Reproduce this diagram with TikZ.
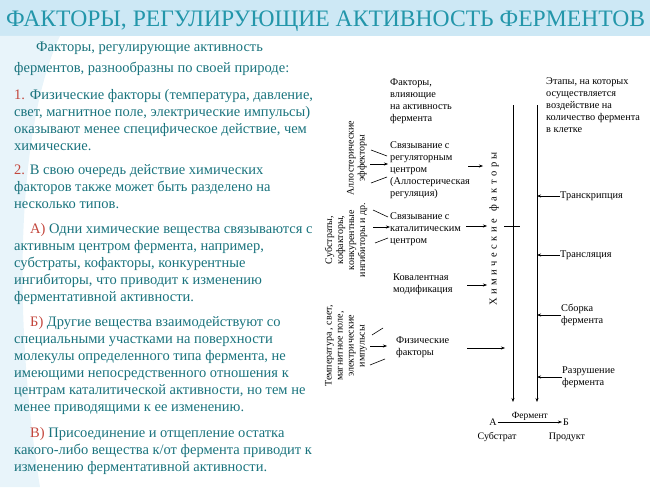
\documentclass[tikz,border=0pt]{standalone}
\usepackage{fontspec}
\setmainfont{Liberation Serif}
\usetikzlibrary{arrows.meta}
\definecolor{tealtxt}{RGB}{25,115,125}
\definecolor{titlec}{RGB}{35,150,170}
\definecolor{numred}{RGB}{195,70,60}
\definecolor{band}{RGB}{205,232,245}
\definecolor{swoosh}{RGB}{232,244,250}
\begin{document}
\begin{tikzpicture}[x=1pt,y=-1pt,
  body/.style={anchor=base west,inner sep=0,font=\fontsize{14.5}{15}\selectfont,text=tealtxt},
  lab/.style={anchor=north west,inner sep=0,align=left,font=\fontsize{10.3}{12}\selectfont},
  vlab/.style={rotate=90,inner sep=0,align=center,font=\fontsize{10}{11}\selectfont},
  arr/.style={-{Stealth[length=4pt,width=3pt]},line width=0.5pt},
  ln/.style={line width=0.6pt}]
\useasboundingbox (0,0) rectangle (650,487);
\fill[band] (0,0) rectangle (650,36);
\fill[swoosh] (0,36) -- (60,36) .. controls (20,120) and (10,300) .. (40,487) -- (0,487) -- cycle;
\node[anchor=base west,inner sep=0,text=titlec,font=\fontsize{23.6}{26}\selectfont] (title) at (6,27) {ФАКТОРЫ, РЕГУЛИРУЮЩИЕ АКТИВНОСТЬ ФЕРМЕНТОВ};
% left text
\node[body] (l1) at (36,52) {Факторы, регулирующие активность};
\node[body] (l2) at (14,73) {ферментов, разнообразны по своей природе:};
\node[body] (l3) at (14,99) {\textcolor{numred}{1.} Физические факторы (температура, давление,};
\node[body] (l4) at (14,116) {свет, магнитное поле, электрические импульсы)};
\node[body] (l5) at (14,133) {оказывают менее специфическое действие, чем};
\node[body] (l6) at (14,150) {химические.};
\node[body] (l7) at (14,174) {\textcolor{numred}{2.} В свою очередь действие химических};
\node[body] (l8) at (14,191) {факторов также может быть разделено на};
\node[body] (l9) at (14,208) {несколько типов.};
\node[body] (l10) at (30,233) {\textcolor{numred}{А)} Одни химические вещества связываются с};
\node[body] (l11) at (14,250) {активным центром фермента, например,};
\node[body] (l12) at (14,267) {субстраты, кофакторы, конкурентные};
\node[body] (l13) at (14,284) {ингибиторы, что приводит к изменению};
\node[body] (l14) at (14,301) {ферментативной активности.};
\node[body] (l15) at (30,326) {\textcolor{numred}{Б)} Другие вещества взаимодействуют со};
\node[body] (l16) at (14,343) {специальными участками на поверхности};
\node[body] (l17) at (14,360) {молекулы определенного типа фермента, не};
\node[body] (l18) at (14,377) {имеющими непосредственного отношения к};
\node[body] (l19) at (14,394) {центрам каталитической активности, но тем не};
\node[body] (l20) at (14,411) {менее приводящими к ее изменению.};
\node[body] (l21) at (30,437) {\textcolor{numred}{В)} Присоединение и отщепление остатка};
\node[body] (l22) at (14,454) {какого-либо вещества к/от фермента приводит к};
\node[body] (l23) at (14,471) {изменению ферментативной активности.};
% diagram
\coordinate (v1t) at (513,105); \coordinate (v1b) at (513,402);
\coordinate (v2t) at (537,105); \coordinate (v2b) at (537,402);
\draw[arr,line width=0.8pt] (v1t) -- (v1b);
\draw[arr,line width=0.8pt] (v2t) -- (v2b);
\node[vlab,font=\fontsize{10.5}{11}\selectfont] (chem) at (494,229) {Х\,\,и\,\,м\,\,и\,\,ч\,\,е\,\,с\,\,к\,\,и\,\,е\,\ \ ф\,\,а\,\,к\,\,т\,\,о\,\,р\,\,ы};
\node[lab] (fact) at (390,79) {Факторы,\\влияющие\\на активность\\фермента};
\node[lab] (etap) at (546,77) {Этапы, на которых\\осуществляется\\воздействие на\\количество фермента\\в клетке};
\node[lab] (reg) at (390,141) {Связывание с\\регуляторным\\центром\\(Аллостерическая\\регуляция)};
\node[lab] (cat) at (390,212) {Связывание с\\каталитическим\\центром};
\node[lab] (cov) at (393,274) {Ковалентная\\модификация};
\node[lab] (phys) at (396,337) {Физические\\факторы};
\node[vlab] (allo) at (357,158) {Аллостерические\\эффекторы};
\node[vlab] (subs) at (346,240) {Субстраты,\\кофакторы,\\конкурентные\\ингибиторы и др.};
\node[vlab] (temp) at (346,346) {Температура , свет,\\магнитное поле,\\электрические\\импульсы};
\coordinate (a1) at (483,166); \coordinate (a2) at (487,226);
\coordinate (a3) at (487,285); \coordinate (a4) at (505,348);
\draw[arr] (468,166) -- (a1);
\draw[arr] (466,226) -- (a2);
\draw[ln] (504,226) -- (520,226);
\draw[arr] (467,285) -- (a3);
\draw[arr] (467,348) -- (a4);
% converging strokes
\draw[ln] (371,150) -- (387,156); \draw[arr] (370,164) -- (388,164); \draw[ln] (371,183) -- (387,177);
\draw[ln] (373,210) -- (388,217); \draw[arr] (373,227) -- (390,227); \draw[ln] (375,243) -- (388,238);
\draw[ln] (372,335) -- (383,328); \draw[arr] (370,346) -- (387,346); \draw[ln] (370,365) -- (385,359);
% stages
\node[lab,anchor=west] (tr) at (560,196) {Транскрипция};
\node[lab,anchor=west] (tl) at (560,255) {Трансляция};
\node[lab,anchor=west] (sb) at (561,315) {Сборка\\фермента};
\node[lab,anchor=west] (rz) at (562,377) {Разрушение\\фермента};
\draw[arr] (tr.west) -- (v2t |- tr.west);
\draw[arr] (tl.west) -- (v2t |- tl.west);
\draw[arr] (sb.west) -- (v2t |- sb.west);
\draw[arr] (rz.west) -- (v2t |- rz.west);
% reaction
\node[inner sep=1pt,font=\fontsize{10}{11}\selectfont] (A) at (493,422) {А};
\node[inner sep=1pt,font=\fontsize{10}{11}\selectfont] (B) at (566,422) {Б};
\draw[arr] (A) -- (B) node[midway,above=0pt,font=\fontsize{9.5}{10}\selectfont,inner sep=1pt] (ferm) {Фермент};
\node[inner sep=0,font=\fontsize{10}{10}\selectfont] (sub) at (497,437) {Субстрат};
\node[inner sep=0,font=\fontsize{10}{10}\selectfont] (prod) at (567,437) {Продукт};
\end{tikzpicture}
\end{document}
